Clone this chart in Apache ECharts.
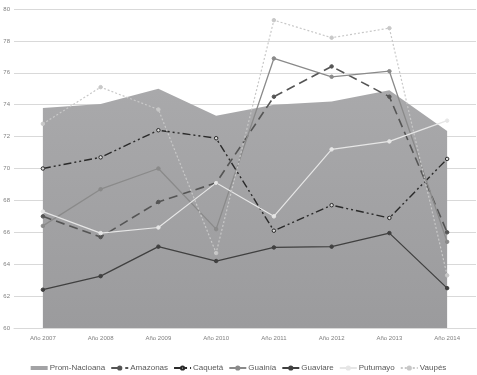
<!DOCTYPE html>
<html><head><meta charset="utf-8">
<script src="https://cdn.jsdelivr.net/npm/echarts@6/dist/echarts.min.js"></script>
<style>html,body{margin:0;padding:0;background:#fff}#c{width:477px;height:375px}</style>
</head><body><div id="c"></div>
<script>
const categories = ['Año 2007','Año 2008','Año 2009','Año 2010','Año 2011','Año 2012','Año 2013','Año 2014'];
const promNacional = [73.8, 74.05, 75.0, 73.3, 74.0, 74.2, 74.9, 72.35];
const amazonas = [67.0, 65.7, 67.9, 69.1, 74.5, 76.4, 74.5, 66.0];
const caqueta = [70.0, 70.7, 72.4, 71.9, 66.1, 67.7, 66.9, 70.6];
const guainia = [66.4, 68.7, 70.0, 66.2, 76.9, 75.75, 76.1, 65.4];
const guaviare = [62.4, 63.25, 65.1, 64.2, 65.05, 65.1, 65.95, 62.5];
const putumayo = [67.3, 65.95, 66.3, 69.1, 67.0, 71.2, 71.7, 73.0];
const vaupes = [72.8, 75.1, 73.7, 64.7, 79.3, 78.2, 78.8, 63.3];
const yMin = 60, yMax = 80, yStep = 2;

function lineSeries(name, data, color, type, width, symColor) {
  return {
    name, type: 'line', data,
    symbol: 'circle', symbolSize: 3.5,
    itemStyle: { color: symColor || color, borderColor: color, borderWidth: 1 },
    lineStyle: { color, width: width || 1.3, type },
    z: 3
  };
}
const chart = echarts.init(document.getElementById('c'));
chart.setOption({
  animation: false,
  textStyle: { fontFamily: 'Liberation Sans, Arial, sans-serif' },
  grid: { left: 14, right: 1, top: 9, bottom: 47, containLabel: false },
  xAxis: {
    type: 'category', data: categories, boundaryGap: true,
    axisLine: { lineStyle: { color: '#d9d9d9' } },
    axisTick: { show: false },
    axisLabel: { fontSize: 6, color: '#808080', margin: 7 }
  },
  yAxis: {
    type: 'value', min: yMin, max: yMax, interval: yStep,
    axisLine: { show: false }, axisTick: { show: false },
    axisLabel: { fontSize: 6, color: '#808080', margin: 4 },
    splitLine: { lineStyle: { color: '#d9d9d9', width: 1 } }
  },
  legend: {
    top: 359, left: 'center', itemWidth: 17, itemHeight: 4, itemGap: 5,
    textStyle: { fontSize: 8, color: '#595959', padding: [0, 0, 0, -3] },
    data: [
      { name: 'Prom-Nacioana', icon: 'rect', itemStyle: { color: '#a3a3a5' } },
      'Amazonas', 'Caquetá', 'Guainía', 'Guaviare', 'Putumayo', 'Vaupés'
    ]
  },
  series: [
    {
      name: 'Prom-Nacioana', type: 'line', data: promNacional,
      symbol: 'none', lineStyle: { width: 0 },
      itemStyle: { color: '#a3a3a5' },
      areaStyle: {
        origin: 'start', opacity: 1,
        color: new echarts.graphic.LinearGradient(0, 0, 0, 1, [
          { offset: 0, color: '#a9a9ab' }, { offset: 1, color: '#9b9b9d' }
        ])
      },
      z: 1
    },
    lineSeries('Amazonas', amazonas, '#555555', [9, 5], 1.6),
    lineSeries('Caquetá', caqueta, '#2a2a2a', [8, 3, 2, 3, 2, 3], 1.4, '#dddddd'),
    lineSeries('Guainía', guainia, '#8a8a8a', 'solid', 1.3),
    lineSeries('Guaviare', guaviare, '#404040', 'solid', 1.3),
    lineSeries('Putumayo', putumayo, '#e6e6e6', 'solid', 1.2),
    lineSeries('Vaupés', vaupes, '#c8c8c8', [2, 2], 1.2)
  ]
});
</script></body></html>
